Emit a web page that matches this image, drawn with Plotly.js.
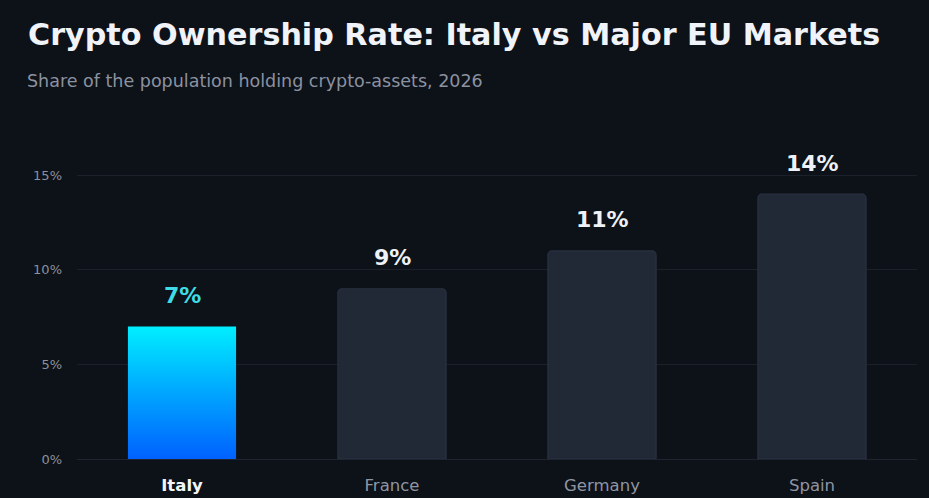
<!DOCTYPE html>
<html>
<head>
<meta charset="utf-8">
<script src="https://cdn.plot.ly/plotly-3.0.1.min.js"></script>
<style>
html,body{margin:0;padding:0;background:#0d1118;}
#chart{width:929px;height:498px;}
</style>
</head>
<body>
<div id="chart"></div>
<script>
// Data
const categories = ["Italy", "France", "Germany", "Spain"];
const ownershipRate = [7, 9, 11, 14];
const valueLabels = ["7%", "9%", "11%", "14%"];
const yTickValues = [0, 5, 10, 15];
const yTickLabels = ["0%", "5%", "10%", "15%"];
const highlightCategory = "Italy";
const titleText = "Crypto Ownership Rate: Italy vs Major EU Markets";
const subtitleText = "Share of the population holding crypto-assets, 2026";

const hiIdx = categories.indexOf(highlightCategory);
const otherCats = categories.filter((c, i) => i !== hiIdx);
const otherVals = ownershipRate.filter((v, i) => i !== hiIdx);

const traces = [
  {
    type: "bar",
    x: [categories[hiIdx]],
    y: [ownershipRate[hiIdx]],
    width: 0.515,
    marker: {color: "#00a8ff", line: {width: 0}},
    hoverinfo: "skip",
    showlegend: false
  },
  {
    type: "bar",
    x: otherCats,
    y: otherVals,
    width: 0.515,
    marker: {color: "#212836", line: {color: "#2a3140", width: 1.2}, cornerradius: 4},
    hoverinfo: "skip",
    showlegend: false
  }
];

const tickText = categories.map(c => c === highlightCategory
  ? '<b><span style="color:#f2f5f9">' + c + '</span></b>'
  : '<span style="color:#8f96a3">' + c + '</span>');

const annotations = categories.map((c, i) => ({
  x: c,
  y: ownershipRate[i],
  xref: "x",
  yref: "y",
  text: "<b>" + valueLabels[i] + "</b>",
  showarrow: false,
  yanchor: "middle",
  yshift: 31,
  font: {family: "DejaVu Sans", size: 22, color: c === highlightCategory ? "#3fdbe6" : "#eef1f6"}
}));

annotations.push({
  xref: "paper", yref: "paper",
  x: -0.062, y: 1 + (144 - 81) / 315,
  xanchor: "left", yanchor: "middle",
  text: subtitleText,
  showarrow: false,
  font: {family: "DejaVu Sans", size: 17.5, color: "#8b92a0"}
});

const layout = {
  width: 929,
  height: 498,
  paper_bgcolor: "#0d1118",
  plot_bgcolor: "#0d1118",
  barmode: "overlay",
  margin: {l: 77, r: 12, t: 144, b: 39},
  title: {
    text: "<b>" + titleText + "</b>",
    x: 28 / 929, xanchor: "left", xref: "container",
    y: 1 - 34 / 498, yanchor: "middle", yref: "container",
    font: {family: "DejaVu Sans", size: 30.2, color: "#f0f3f8"}
  },
  xaxis: {
    type: "category",
    categoryorder: "array",
    categoryarray: categories,
    tickvals: categories,
    ticktext: tickText,
    tickfont: {family: "DejaVu Sans", size: 16.5, color: "#8f96a3"},
    showgrid: false,
    zeroline: false,
    showline: false,
    ticks: "",
    ticklabelstandoff: 14,
    fixedrange: true
  },
  yaxis: {
    range: [0, 16.65],
    tickvals: yTickValues,
    ticktext: yTickLabels,
    tickfont: {family: "DejaVu Sans", size: 13, color: "#8a919d"},
    showgrid: true,
    gridcolor: "#1b212b",
    gridwidth: 1,
    zeroline: true,
    zerolinecolor: "#1f2530",
    zerolinewidth: 1,
    showline: false,
    ticks: "",
    ticklabelstandoff: 14,
    fixedrange: true
  },
  annotations: annotations,
  font: {family: "DejaVu Sans"}
};

Plotly.newPlot("chart", traces, layout, {displayModeBar: false, staticPlot: true}).then(gd => {
  const svg = gd.querySelector("svg.main-svg");
  const ns = "http://www.w3.org/2000/svg";
  let defs = svg.querySelector("defs");
  if (!defs) { defs = document.createElementNS(ns, "defs"); svg.insertBefore(defs, svg.firstChild); }
  const grad = document.createElementNS(ns, "linearGradient");
  grad.setAttribute("id", "italyGrad");
  grad.setAttribute("x1", "0"); grad.setAttribute("y1", "0");
  grad.setAttribute("x2", "0"); grad.setAttribute("y2", "1");
  [["0", "#00eeff"], ["0.5", "#00a6ff"], ["1", "#0061ff"]].forEach(([o, c]) => {
    const s = document.createElementNS(ns, "stop");
    s.setAttribute("offset", o); s.setAttribute("stop-color", c);
    grad.appendChild(s);
  });
  defs.appendChild(grad);
  const firstTrace = gd.querySelector(".barlayer .trace.bars");
  if (firstTrace) {
    firstTrace.querySelectorAll("path").forEach(p => { p.style.fill = "url(#italyGrad)"; });
  }
});
</script>
</body>
</html>
